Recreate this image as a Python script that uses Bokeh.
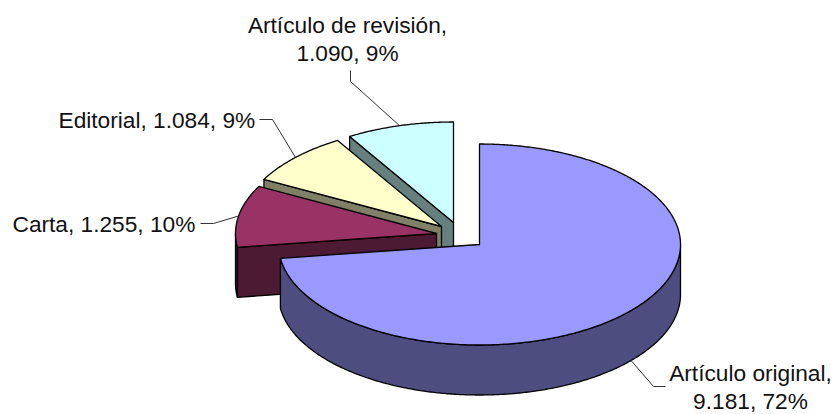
import math
from bokeh.plotting import figure
from bokeh.models import ColumnDataSource, Range1d
from bokeh.core.properties import value
from bokeh.embed import file_html
from bokeh.resources import INLINE

# ---- data ----
categories = ["Artículo original", "Carta", "Editorial", "Artículo de revisión"]
values = [9181, 1255, 1084, 1090]
value_labels = ["9.181", "1.255", "1.084", "1.090"]
percent_labels = ["72%", "10%", "9%", "9%"]

# ---- styles ----
top_colors = ["#9999FF", "#993366", "#FFFFCC", "#CCFFFF"]
side_colors = ["#4D4D80", "#4D1A33", "#808066", "#668080"]

# ---- layout (page pixels) ----
W, H = 836, 414
RX, RY, DEPTH = 201, 100.5, 50
apexes = [(479, 244), (436, 233), (441, 226), (453, 222)]
FONT = "22.7px"

total = sum(values)
bounds = [0.0]
for v in values:
    bounds.append(bounds[-1] + v / total * 360)


def point(apex, deg, drop=0):
    r = math.radians(deg)
    return apex[0] + RX * math.sin(r), apex[1] - RY * math.cos(r) + drop


def arc(apex, a, b, drop=0):
    n = max(2, int(abs(b - a) * 2))
    return [point(apex, a + (b - a) * i / n, drop) for i in range(n + 1)]


xs, ys, fills = [], [], []


def add(poly, color):
    xs.append([q[0] for q in poly])
    ys.append([q[1] for q in poly])
    fills.append(color)


for i in reversed(range(len(values))):
    apex, a, b = apexes[i], bounds[i], bounds[i + 1]
    # cut face at the start angle, when it looks towards the viewer
    if 180 < a < 360:
        s = point(apex, a)
        add([apex, s, (s[0], s[1] + DEPTH), (apex[0], apex[1] + DEPTH)], side_colors[i])
    # outer rim, front half only
    lo, hi = max(a, 90), min(b, 270)
    if hi > lo:
        add(arc(apex, lo, hi) + arc(apex, hi, lo, DEPTH), side_colors[i])
    # top surface
    add([apex] + arc(apex, a, b), top_colors[i])

p = figure(width=W, height=H, output_backend="svg", toolbar_location=None,
           x_range=Range1d(0, W), y_range=Range1d(H, 0),
           min_border=0, outline_line_color=None, background_fill_color="white",
           border_fill_color="white")
p.axis.visible = False
p.grid.visible = False
p.patches(xs, ys, fill_color=fills, line_color="black", line_width=1.3, line_join="round")

# ---- leader lines: from the rim at each slice's middle angle to an elbow near the label ----
elbows = [[(653, 386), (665, 386)],
          [(213, 223), (200, 223)],
          [(272, 119), (259, 119)],
          [(350, 81), (350, 70)]]
lx, ly = [], []
for i in range(len(values)):
    mid = (bounds[i] + bounds[i + 1]) / 2
    drop = DEPTH if 90 < mid < 270 else 0
    start = point(apexes[i], mid, drop)
    path = [start] + elbows[i]
    lx.append([q[0] for q in path])
    ly.append([q[1] for q in path])
p.multi_line(lx, ly, line_color="#333333", line_width=1)

# ---- labels ----
texts = [
    (f"{categories[0]},", 750, 372, "center"),
    (f"{value_labels[0]}, {percent_labels[0]}", 750, 400, "center"),
    (f"{categories[1]}, {value_labels[1]}, {percent_labels[1]}", 12, 223, "left"),
    (f"{categories[2]}, {value_labels[2]}, {percent_labels[2]}", 58, 119, "left"),
    (f"{categories[3]},", 347, 24, "center"),
    (f"{value_labels[3]}, {percent_labels[3]}", 347, 52, "center"),
]
src = ColumnDataSource(dict(text=[t[0] for t in texts], x=[t[1] for t in texts],
                            y=[t[2] for t in texts], align=[t[3] for t in texts]))
p.text(x="x", y="y", text="text", source=src, text_align="align",
       text_baseline=value("middle"), text_font=value("Liberation Sans"),
       text_font_size=value(FONT), text_color="#111111")

open("out.html", "w").write(file_html(p, INLINE))
